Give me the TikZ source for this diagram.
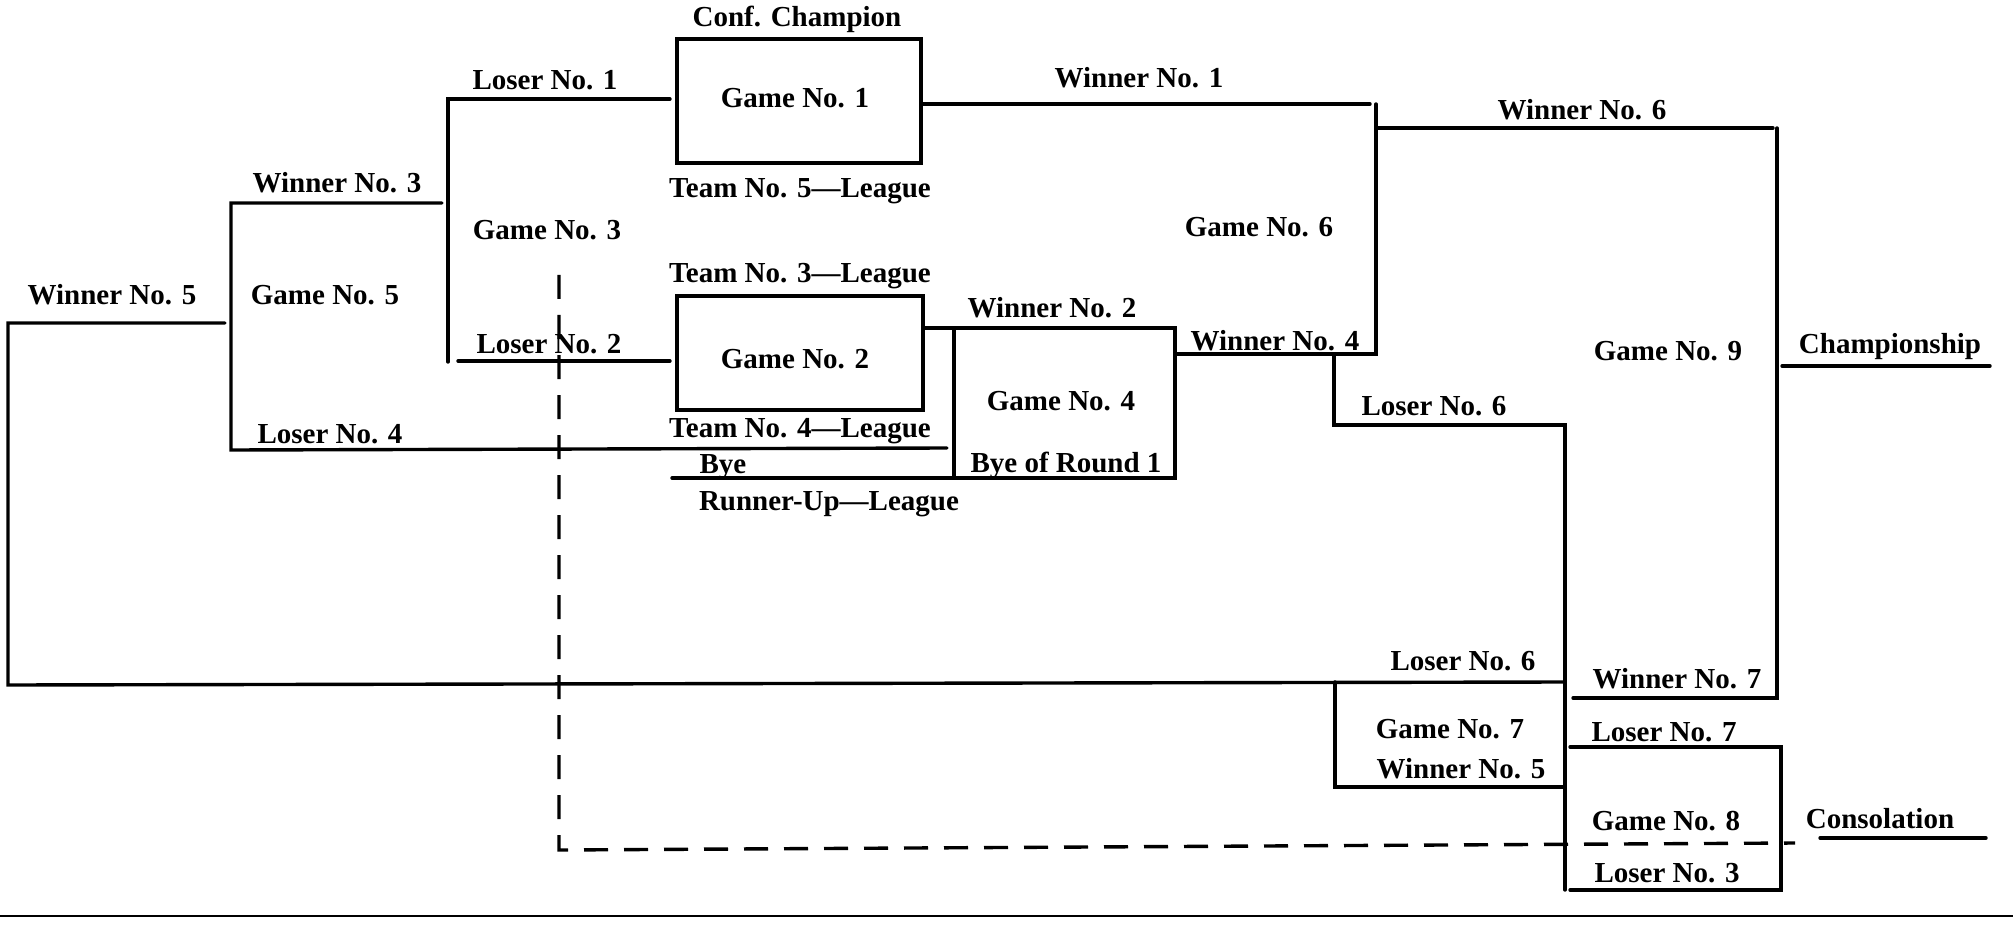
\documentclass[tikz,border=0pt]{standalone}
\usepackage{fontspec}
\newfontfamily\lblfont[Ligatures=TeX]{Liberation Serif}
\begin{document}
\begin{tikzpicture}[x=1pt,y=-1pt,
  ln/.style={line width=3.4pt,line cap=round,line join=miter},
  dsh/.style={line width=3.4pt,dash pattern=on 24pt off 16pt},
  txt/.style={anchor=base,inner sep=0pt,font=\lblfont\bfseries\fontsize{29}{34}\selectfont}]
\useasboundingbox (0,0) rectangle (2013,925);
% ---- text nodes (x, cap-centre + 10)
\node[txt] (confch) at (797,27) {Conf. Champion};
\node[txt] (g1) at (795,108) {Game No. 1};
\node[txt] (t5) at (800,198) {Team No. 5\textemdash League};
\node[txt] (w1) at (1139,88) {Winner No. 1};
\node[txt] (g6) at (1259,237) {Game No. 6};
\node[txt] (t3) at (800,283) {Team No. 3\textemdash League};
\node[txt] (w2) at (1052,318) {Winner No. 2};
\node[txt] (g2) at (795,368) {Game No. 2};
\node[txt] (g4) at (1061,410) {Game No. 4};
\node[txt] (w4) at (1275,350) {Winner No. 4};
\node[txt] (t4) at (800,437) {Team No. 4\textemdash League};
\node[txt] (bye) at (723,473) {Bye};
\node[txt] (byer) at (1066,472) {Bye of Round 1};
\node[txt] (ru) at (829,510) {Runner-Up\textemdash League};
\node[txt] (l1) at (545,90) {Loser No. 1};
\node[txt] (w3) at (337,193) {Winner No. 3};
\node[txt] (g3) at (547,240) {Game No. 3};
\node[txt] (w5) at (112,305) {Winner No. 5};
\node[txt] (g5) at (325,305) {Game No. 5};
\node[txt] (l2) at (549,353) {Loser No. 2};
\node[txt] (l4) at (330,443) {Loser No. 4};
\node[txt] (w6) at (1582,120) {Winner No. 6};
\node[txt] (g9) at (1668,360) {Game No. 9};
\node[txt] (champ) at (1890,353) {Championship};
\node[txt] (l6a) at (1434,415) {Loser No. 6};
\node[txt] (l6b) at (1463,670) {Loser No. 6};
\node[txt] (w7) at (1677,688) {Winner No. 7};
\node[txt] (g7) at (1450,738) {Game No. 7};
\node[txt] (w5b) at (1461,778) {Winner No. 5};
\node[txt] (l7) at (1664,741) {Loser No. 7};
\node[txt] (g8) at (1666,830) {Game No. 8};
\node[txt] (cons) at (1880,828) {Consolation};
\node[txt] (l3) at (1667,882) {Loser No. 3};
% ---- coordinates
\coordinate (w5r) at (225,323);
\coordinate (w5l) at (8,323);
\coordinate (lpb) at (8,685);
\coordinate (l6r) at (1565,682);
\coordinate (w3r) at (442,203);
\coordinate (g5t) at (231,203);
\coordinate (g5b) at (231,450);
\coordinate (l4r) at (947,448);
\coordinate (l1r) at (670,99);
\coordinate (g3t) at (448,99);
\coordinate (g3b) at (448,362);
\coordinate (l2l) at (458,361);
\coordinate (l2r) at (670,361);
\coordinate (b1a) at (677,39);
\coordinate (b1b) at (921,163);
\coordinate (w1l) at (921,104);
\coordinate (w1r) at (1370,104);
\coordinate (g6t) at (1376,104);
\coordinate (g6b) at (1376,354);
\coordinate (w6l) at (1376,128);
\coordinate (w6r) at (1773,128);
\coordinate (g9t) at (1777,128);
\coordinate (g9b) at (1777,698);
\coordinate (w7l) at (1573,698);
\coordinate (b2a) at (677,296);
\coordinate (b2b) at (923,410);
\coordinate (w2l) at (923,328);
\coordinate (g4tr) at (1175,328);
\coordinate (g4br) at (1175,478);
\coordinate (byel) at (672,478);
\coordinate (g4tl) at (954,328);
\coordinate (g4bl) at (954,478);
\coordinate (w4r) at (1175,354);
\coordinate (l6t) at (1334,354);
\coordinate (l6c) at (1334,425);
\coordinate (l6e) at (1565,425);
\coordinate (l6f) at (1565,890);
\coordinate (g7t) at (1335,682);
\coordinate (g7b) at (1335,787);
\coordinate (g7r) at (1565,787);
\coordinate (g8a) at (1570,747);
\coordinate (g8b) at (1781,747);
\coordinate (g8c) at (1781,890);
\coordinate (g8d) at (1570,890);
\coordinate (chl) at (1782,366);
\coordinate (chr) at (1990,366);
\coordinate (col) at (1820,838);
\coordinate (cor) at (1986,838);
\coordinate (dsa) at (559,275);
\coordinate (dsb) at (559,850);
\coordinate (dsc) at (1795,843);
\coordinate (rl) at (0,916);
\coordinate (rr) at (2013,916);
% ---- lines
\draw[ln] (w5r) -- (w5l) -- (lpb) -- (l6r);
\draw[ln] (w3r) -- (g5t) -- (g5b) -- (l4r);
\draw[ln] (l1r) -- (g3t) -- (g3b);
\draw[ln] (l2l) -- (l2r);
\draw[ln] (b1a) rectangle (b1b);
\draw[ln] (w1l) -- (w1r);
\draw[ln] (g6t) -- (g6b) -- (w4r);
\draw[ln] (w6l) -- (w6r);
\draw[ln] (g9t) -- (g9b) -- (w7l);
\draw[ln] (b2a) rectangle (b2b);
\draw[ln] (w2l) -- (g4tr) -- (g4br) -- (byel);
\draw[ln] (g4tl) -- (g4bl);
\draw[ln] (l6t) -- (l6c) -- (l6e) -- (l6f);
\draw[ln] (g7t) -- (g7b) -- (g7r);
\draw[ln] (g8a) -- (g8b) -- (g8c) -- (g8d);
\draw[ln] (chl) -- (chr);
\draw[ln] (col) -- (cor);
\draw[dsh] (dsa) -- (dsb) -- (dsc);
\draw[line width=2.2pt] (rl) -- (rr);
\end{tikzpicture}
\end{document}
